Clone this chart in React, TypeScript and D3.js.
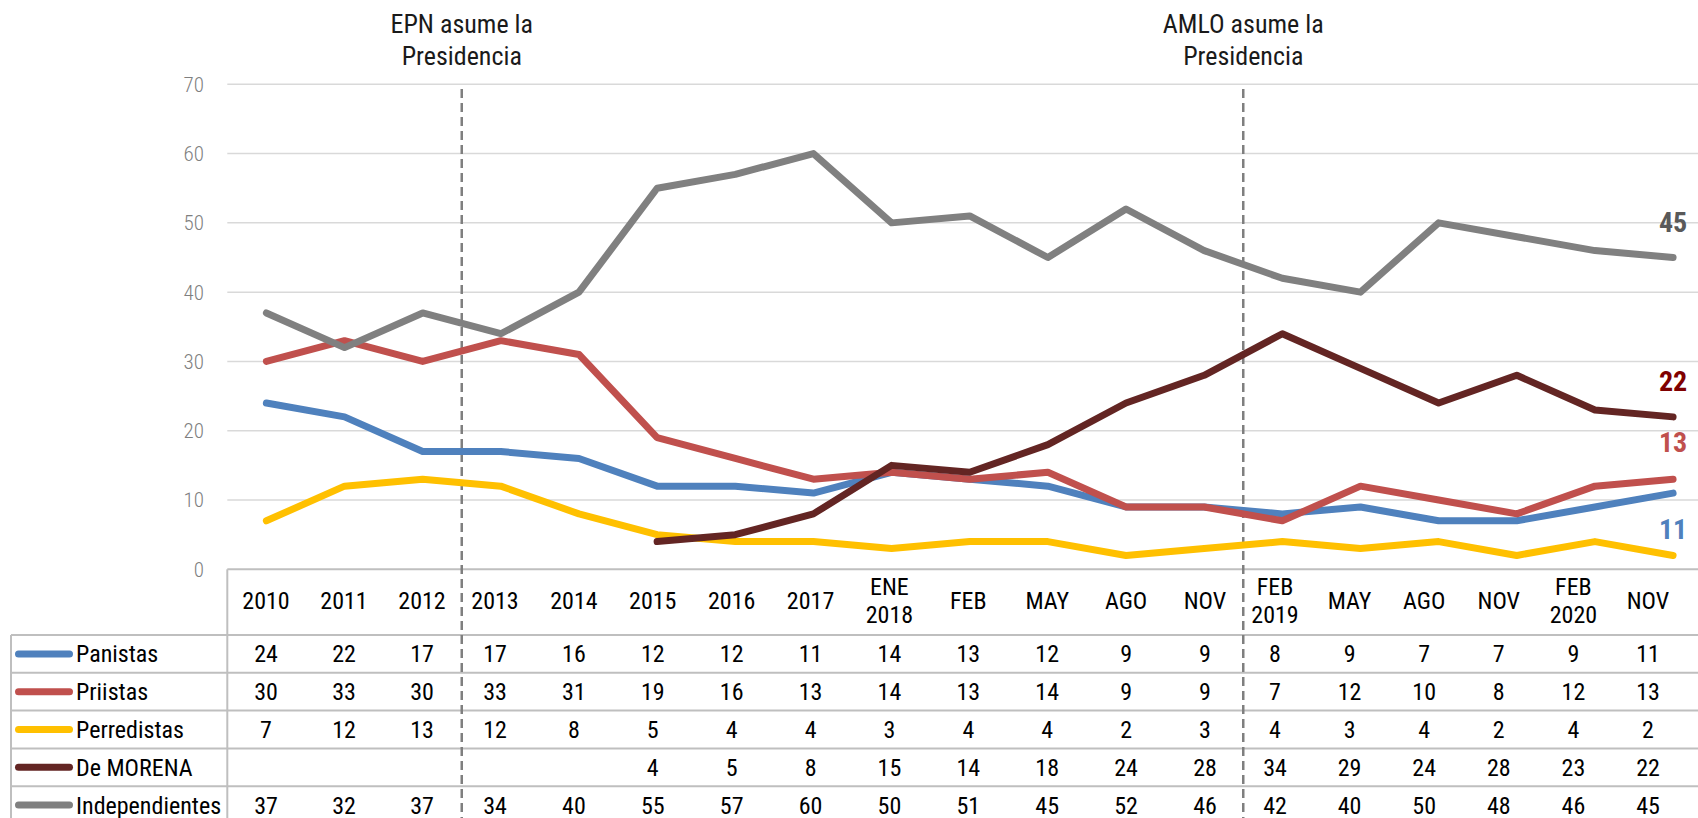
import React from 'react';
import * as d3 from 'd3';

// categorías del eje x (encuestas)
const categories = ['2010', '2011', '2012', '2013', '2014', '2015', '2016', '2017', 'ENE\n2018', 'FEB', 'MAY', 'AGO', 'NOV', 'FEB\n2019', 'MAY', 'AGO', 'NOV', 'FEB\n2020', 'NOV'];

const seriesNames = ['Panistas', 'Priistas', 'Perredistas', 'De MORENA', 'Independientes'];
const panistas = [24, 22, 17, 17, 16, 12, 12, 11, 14, 13, 12, 9, 9, 8, 9, 7, 7, 9, 11];
const priistas = [30, 33, 30, 33, 31, 19, 16, 13, 14, 13, 14, 9, 9, 7, 12, 10, 8, 12, 13];
const perredistas = [7, 12, 13, 12, 8, 5, 4, 4, 3, 4, 4, 2, 3, 4, 3, 4, 2, 4, 2];
const morena = [null, null, null, null, null, 4, 5, 8, 15, 14, 18, 24, 28, 34, 29, 24, 28, 23, 22];
const independientes = [37, 32, 37, 34, 40, 55, 57, 60, 50, 51, 45, 52, 46, 42, 40, 50, 48, 46, 45];

const yTicks = [0, 10, 20, 30, 40, 50, 60, 70];
const events = [
  { at: 3, lines: ['EPN asume la', 'Presidencia'] },
  { at: 13, lines: ['AMLO asume la', 'Presidencia'] },
];

const colors = ['#4f81bd', '#c0504d', '#ffc000', '#632523', '#808080'];
const endLabelColors = ['#4f81bd', '#c0504d', '#ffc000', '#7f0000', '#595959'];

const W = 1698, H = 818;
const FONT = "'Roboto Condensed', Roboto, sans-serif";

export default function App() {
  const values = [panistas, priistas, perredistas, morena, independientes];
  const idx = d3.range(categories.length);

  const x = d3.scaleBand<number>().domain(idx).range([227.3, 227.3 + categories.length * 78.15]).padding(0);
  const cx = (i: number) => (x(i) as number) + x.bandwidth() / 2;
  const y = d3.scaleLinear().domain([0, 70]).range([569.3, 84.3]);

  // la tabla de datos no está alineada exactamente con los puntos
  const tx = d3.scaleLinear().domain([0, 2, 3, 12, 13, 18]).range([266, 422, 495, 1205, 1275, 1648]);
  const rows = d3.scaleBand<string>().domain(seriesNames).range([635, 635 + 5 * 37.8]);

  const line = d3.line<number | null>()
    .defined(d => d != null)
    .x((_, i) => cx(i))
    .y(d => y(d as number));

  const last = categories.length - 1;
  const endLabels = [
    { s: 0, dy: 46 }, { s: 1, dy: -27 }, { s: 3, dy: -26 }, { s: 4, dy: -26 },
  ];

  return (
    <svg width={W} height={H} style={{ position: 'absolute', left: 0, top: 0 }} fontFamily={FONT}>
      <rect width={W} height={H} fill="#fff" />
      {yTicks.slice(1).map(t => (
        <line key={t} x1={x.range()[0]} x2={W} y1={y(t)} y2={y(t)} stroke="#d9d9d9" strokeWidth={1.5} />
      ))}
      {yTicks.map(t => (
        <text key={t} x={204} y={y(t)} dy="0.35em" textAnchor="end" fontSize={21} fontWeight={300} fill="#7f7f7f">{t}</text>
      ))}

      {/* tabla */}
      <line x1={x.range()[0]} x2={W} y1={y(0)} y2={y(0)} stroke="#bfbfbf" strokeWidth={2} />
      {seriesNames.map(n => (
        <line key={n} x1={11} x2={W} y1={rows(n)} y2={rows(n)} stroke="#bfbfbf" strokeWidth={2} />
      ))}
      <line x1={11} x2={11} y1={rows.range()[0]} y2={H} stroke="#bfbfbf" strokeWidth={2} />
      <line x1={x.range()[0]} x2={x.range()[0]} y1={y(0)} y2={H} stroke="#bfbfbf" strokeWidth={2} />
      {categories.map((c, i) => {
        const parts = c.split('\n');
        return (
          <text key={i} x={tx(i)} textAnchor="middle" fontSize={24} fill="#000">
            {parts.map((p, j) => (
              <tspan key={j} x={tx(i)} y={parts.length === 1 ? 608.5 : 595 + j * 28.3}>{p}</tspan>
            ))}
          </text>
        );
      })}
      {seriesNames.map((n, s) => {
        const ry = (rows(n) as number) + rows.bandwidth() / 2;
        return (
          <g key={n}>
            <line x1={18.5} x2={69.5} y1={ry} y2={ry} stroke={colors[s]} strokeWidth={7} strokeLinecap="round" />
            <text x={76} y={ry} dy="0.35em" fontSize={24} fill="#000">{n}</text>
            {values[s].map((v, i) => v == null ? null : (
              <text key={i} x={tx(i)} y={ry} dy="0.35em" textAnchor="middle" fontSize={24} fill="#000">{v}</text>
            ))}
          </g>
        );
      })}

      {/* líneas de eventos */}
      {events.map(e => (
        <g key={e.at}>
          <line x1={x(e.at)} x2={x(e.at)} y1={89} y2={H} stroke="#7f7f7f" strokeWidth={2.5} strokeDasharray="9 5" />
          <text textAnchor="middle" fontSize={26} fill="#1a1a1a">
            {e.lines.map((l, j) => (
              <tspan key={j} x={x(e.at)} y={33 + j * 32}>{l}</tspan>
            ))}
          </text>
        </g>
      ))}

      {values.map((v, s) => (
        <path key={s} d={line(v) || ''} fill="none" stroke={colors[s]} strokeWidth={7}
          strokeLinejoin="round" strokeLinecap="round" />
      ))}

      {endLabels.map(({ s, dy }) => (
        <text key={s} x={cx(last)} y={y(values[s][last] as number) + dy} textAnchor="middle"
          fontSize={28} fontWeight="bold" fill={endLabelColors[s]}>{values[s][last]}</text>
      ))}
    </svg>
  );
}
